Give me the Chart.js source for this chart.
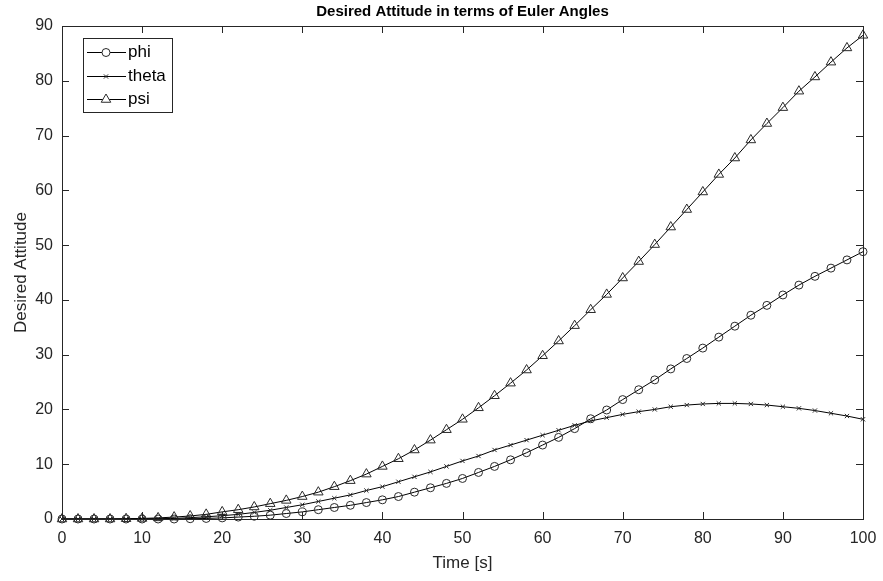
<!DOCTYPE html>
<html>
<head>
<meta charset="utf-8">
<script src="https://cdn.jsdelivr.net/npm/chart.js@4.4.1/dist/chart.umd.min.js"></script>
<style>
  html, body { margin: 0; padding: 0; background: #fff; }
  #wrap { width: 883px; height: 581px; }
</style>
</head>
<body>
<div id="wrap"><canvas id="c" width="883" height="581"></canvas></div>
<script>
// ---- data ----
const timeSeconds = [0,2,4,6,8,10,12,14,16,18,20,22,24,26,28,30,32,34,36,38,40,42,44,46,48,50,52,54,56,58,60,62,64,66,68,70,72,74,76,78,80,82,84,86,88,90,92,94,96,98,100];

const phiValues = [0,0,0,0,0,0,0,0,0.05,0.1,0.2,0.35,0.5,0.7,1.0,1.3,1.7,2.1,2.5,3.0,3.5,4.1,4.9,5.7,6.5,7.4,8.5,9.6,10.8,12.1,13.5,14.9,16.5,18.3,19.9,21.8,23.6,25.4,27.4,29.3,31.2,33.2,35.2,37.2,39.0,40.9,42.7,44.3,45.8,47.3,48.8];

const thetaValues = [0,0,0,0,0,0,0.05,0.1,0.25,0.4,0.6,0.85,1.2,1.6,2.1,2.6,3.2,3.8,4.4,5.2,5.9,6.8,7.7,8.6,9.6,10.6,11.5,12.6,13.5,14.4,15.3,16.2,17.1,17.9,18.5,19.1,19.6,20.0,20.5,20.8,21.0,21.1,21.1,21.0,20.8,20.5,20.2,19.8,19.3,18.8,18.2];

const psiValues = [0,0,0,0,0.05,0.1,0.2,0.35,0.55,0.85,1.3,1.7,2.2,2.8,3.4,4.1,4.9,5.9,7.0,8.2,9.6,11.0,12.6,14.4,16.3,18.2,20.3,22.5,24.8,27.2,29.8,32.5,35.3,38.2,41.0,44.0,47.0,50.1,53.3,56.5,59.7,62.9,65.9,69.2,72.2,75.1,78.1,80.7,83.4,86.0,88.3];

const seriesNames = ['phi', 'theta', 'psi'];
const chartTitle = 'Desired Attitude in terms of Euler Angles';
const xAxisTitle = 'Time [s]';
const yAxisTitle = 'Desired Attitude';

// ---- styling ----
const AXIS_COLOR = '#262626';
const LINE_COLOR = '#000000';
const MARK_COLOR = '#2a2a2a';
const FONT = 'Liberation Sans, Arial, Helvetica, sans-serif';

function toPoints(vals) { return timeSeconds.map((t, i) => ({ x: t, y: vals[i] })); }

const styles = {
  phi:   { pointStyle: 'circle',   radius: 4 },
  theta: { pointStyle: 'crossRot', radius: 3 },
  psi:   { pointStyle: 'triangle', radius: 5.5 }
};

function makeDataset(name, vals) {
  return {
    label: name,
    data: toPoints(vals),
    borderColor: LINE_COLOR,
    borderWidth: 1,
    pointStyle: styles[name].pointStyle,
    pointRadius: styles[name].radius,
    pointBorderColor: MARK_COLOR,
    pointBackgroundColor: 'rgba(0,0,0,0)',
    pointBorderWidth: 1,
    pointHoverRadius: styles[name].radius,
    tension: 0,
    fill: false,
    clip: false
  };
}

const frame = {
  id: 'frame',
  afterDraw(chart) {
    const { ctx, chartArea: a, scales } = chart;
    ctx.save();
    ctx.strokeStyle = AXIS_COLOR;
    ctx.lineWidth = 1;
    // box
    ctx.strokeRect(Math.round(a.left) + 0.5, Math.round(a.top) + 0.5,
                   Math.round(a.right - a.left), Math.round(a.bottom - a.top));
    // inward ticks
    const TL = 7;
    ctx.beginPath();
    scales.x.ticks.forEach(t => {
      const px = Math.round(scales.x.getPixelForValue(t.value)) + 0.5;
      ctx.moveTo(px, a.bottom); ctx.lineTo(px, a.bottom - TL);
      ctx.moveTo(px, a.top); ctx.lineTo(px, a.top + TL);
    });
    scales.y.ticks.forEach(t => {
      const py = Math.round(scales.y.getPixelForValue(t.value)) + 0.5;
      ctx.moveTo(a.left, py); ctx.lineTo(a.left + TL, py);
      ctx.moveTo(a.right, py); ctx.lineTo(a.right - TL, py);
    });
    ctx.stroke();

    // title centred over the plot area
    ctx.fillStyle = '#000';
    ctx.font = 'bold 15px ' + FONT;
    ctx.textAlign = 'center';
    ctx.textBaseline = 'middle';
    ctx.fillText(chartTitle, (a.left + a.right) / 2, 12);

    // legend inside the axes (top-left)
    const lx = a.left + 21, ly = a.top + 12, lw = 89, lh = 74;
    ctx.fillStyle = '#fff';
    ctx.fillRect(lx, ly, lw, lh);
    ctx.strokeStyle = AXIS_COLOR;
    ctx.strokeRect(lx + 0.5, ly + 0.5, lw, lh);
    const rows = [14, 38, 61];
    chart.data.datasets.forEach((ds, i) => {
      const y = ly + rows[i] + 0.5;
      ctx.strokeStyle = LINE_COLOR;
      ctx.lineWidth = 1;
      ctx.beginPath();
      ctx.moveTo(lx + 4, y); ctx.lineTo(lx + 43, y);
      ctx.stroke();
      ctx.strokeStyle = MARK_COLOR;
      ctx.fillStyle = '#fff';
      Chart.helpers.drawPoint(ctx, {
        pointStyle: ds.pointStyle, radius: ds.pointRadius, rotation: 0, borderWidth: 1
      }, lx + 23, y);
      ctx.fillStyle = '#000';
      ctx.font = '17px ' + FONT;
      ctx.textAlign = 'left';
      ctx.textBaseline = 'middle';
      ctx.fillText(ds.label, lx + 45, y);
    });
    ctx.restore();
  }
};

new Chart(document.getElementById('c'), {
  type: 'line',
  data: {
    datasets: [
      makeDataset(seriesNames[0], phiValues),
      makeDataset(seriesNames[1], thetaValues),
      makeDataset(seriesNames[2], psiValues)
    ]
  },
  options: {
    responsive: false,
    devicePixelRatio: 1,
    animation: false,
    events: [],
    layout: { padding: { top: 26, right: 20, left: 0, bottom: 0 } },
    plugins: { legend: { display: false }, title: { display: false }, tooltip: { enabled: false } },
    scales: {
      x: {
        type: 'linear', min: 0, max: 100,
        afterFit: s => { s.height = 62; s.paddingLeft = 0; s.paddingRight = 0; },
        ticks: { stepSize: 10, color: AXIS_COLOR, font: { family: FONT, size: 16 }, padding: 10, maxRotation: 0 },
        grid: { drawOnChartArea: false, drawTicks: false },
        border: { display: false },
        title: { display: true, text: xAxisTitle, color: AXIS_COLOR, font: { family: FONT, size: 17 }, padding: { top: 0, bottom: 7 } }
      },
      y: {
        type: 'linear', min: 0, max: 90,
        afterFit: s => { s.width = 62; s.paddingTop = 0; s.paddingBottom = 0; },
        ticks: { stepSize: 10, color: AXIS_COLOR, font: { family: FONT, size: 16 }, padding: 9 },
        grid: { drawOnChartArea: false, drawTicks: false },
        border: { display: false },
        title: { display: true, text: yAxisTitle, color: AXIS_COLOR, font: { family: FONT, size: 17 }, padding: { top: 11, bottom: 0 } }
      }
    }
  },
  plugins: [frame]
});
</script>
</body>
</html>
